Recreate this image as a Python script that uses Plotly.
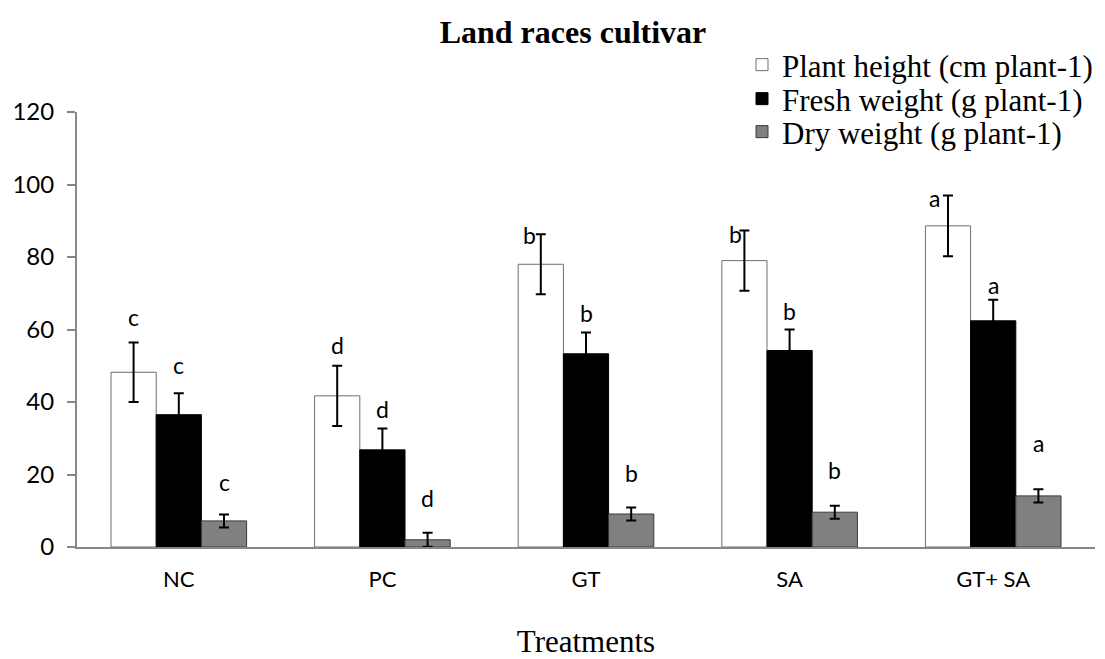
import plotly.graph_objects as go

categories = ["NC", "PC", "GT", "SA", "GT+ SA"]
series_names = ["Plant height (cm plant-1)", "Fresh weight (g plant-1)", "Dry weight (g plant-1)"]
plant_height = [48.2, 41.7, 78.0, 79.0, 88.6]
plant_height_err = [8.2, 8.3, 8.3, 8.3, 8.4]
fresh_weight = [36.5, 26.8, 53.3, 54.2, 62.4]
fresh_weight_err = [5.9, 5.9, 5.9, 5.8, 5.8]
dry_weight = [7.2, 2.0, 9.1, 9.6, 14.1]
dry_weight_err = [1.8, 1.9, 1.8, 1.8, 1.8]
letters_height = ["c", "d", "b", "b", "a"]
letters_fresh = ["c", "d", "b", "b", "a"]
letters_dry = ["c", "d", "b", "b", "a"]
y_ticks = [0, 20, 40, 60, 80, 100, 120]

# style: label pixel offsets (baseline above error-bar top) and horizontal shifts
label_dy = [[19, 14, -8, -10, -10], [21, 12, 12.5, 12, 7.5], [25.7, 28, 27.5, 29, 39]]
label_dx = [[0, 0, -11, -9, -14], [0, 0, 0, 0, 0], [0, 0, 0, 0, 0]]

SANS = "Lato"
SERIF = "Liberation Serif"
AXIS_GREY = "#878787"

x = list(range(len(categories)))
bargap = 0.334
w = (1 - bargap) / 3

values = [plant_height, fresh_weight, dry_weight]
errs = [plant_height_err, fresh_weight_err, dry_weight_err]
letters = [letters_height, letters_fresh, letters_dry]
fills = ["#ffffff", "#000000", "#808080"]
lines = [dict(color="#6e6e6e", width=1), dict(color="#000000", width=1), dict(color="#3a3a3a", width=1)]
legends = ["legend", "legend2", "legend3"]

fig = go.Figure()
for k in range(3):
    fig.add_trace(go.Bar(
        x=x, y=values[k], name=series_names[k],
        marker=dict(color=fills[k], line=lines[k]),
        error_y=dict(type="data", array=errs[k], color="black", thickness=2, width=5),
        legend=legends[k], showlegend=True,
    ))

annotations = []
for k in range(3):
    for i in range(len(categories)):
        top = values[k][i] + errs[k][i]
        annotations.append(dict(
            x=i + (k - 1) * w, y=top, xref="x", yref="y",
            text=letters[k][i], showarrow=False,
            font=dict(family=SANS, size=23, color="black"),
            xanchor="center", yanchor="middle",
            xshift=label_dx[k][i], yshift=label_dy[k][i] + 7,
        ))

fig.update_layout(
    width=1105, height=659,
    margin=dict(l=77, r=10, t=112, b=112, autoexpand=False),
    paper_bgcolor="white", plot_bgcolor="white",
    barmode="group", bargap=bargap, bargroupgap=0,
    title=dict(text="<b>Land races cultivar</b>", x=573 / 1105, xanchor="center",
               y=1 - 32 / 659, yanchor="middle", yref="container",
               font=dict(family=SERIF, size=32, color="black")),
    annotations=annotations,
    font=dict(family=SANS, color="black"),
)
leg_y = [65, 99, 132]
for k, name in enumerate(legends):
    fig.update_layout({name: dict(
        x=742 / 1105, xref="container", xanchor="left",
        y=1 - leg_y[k] / 659, yref="container", yanchor="middle",
        font=dict(family=SERIF, size=31, color="black"),
        bgcolor="rgba(0,0,0,0)", borderwidth=0,
    )})

fig.update_xaxes(
    range=[-0.5, 4.5], tickvals=x, ticktext=categories,
    showline=True, linecolor=AXIS_GREY, linewidth=2,
    ticks="", showgrid=False, zeroline=False,
    tickfont=dict(family=SANS, size=22, color="black"),
    ticklabelstandoff=12,
    title=dict(text="Treatments", font=dict(family=SERIF, size=31, color="black"), standoff=43),
)
fig.update_yaxes(
    range=[0, 120], tickvals=y_ticks,
    showline=True, linecolor=AXIS_GREY, linewidth=2,
    ticks="outside", ticklen=8, tickwidth=2, tickcolor=AXIS_GREY,
    showgrid=False, zeroline=False,
    tickfont=dict(family=SANS, size=24, color="black"),
    ticklabelstandoff=8,
)

fig.write_html("out.html")
